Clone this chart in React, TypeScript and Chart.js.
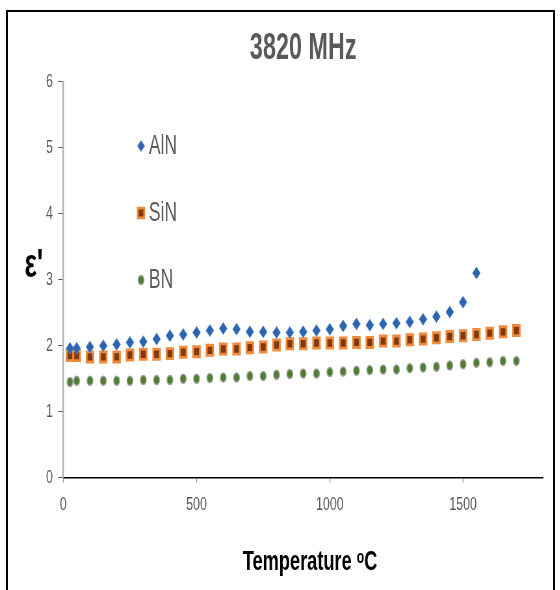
import React, { useEffect, useRef } from "react";
import { Chart, registerables } from "chart.js";
import { drawPoint } from "chart.js/helpers";

Chart.register(...registerables);

// ---------- data ----------
const TITLE = "3820 MHz";
const X_TITLE = "Temperature ᵒC";
const Y_TITLE = "ε'";
const seriesNames = ["AlN", "SiN", "BN"];

const temperatures = [
  25, 50, 100, 150, 200, 250, 300, 350, 400, 450, 500, 550, 600, 650, 700, 750,
  800, 850, 900, 950, 1000, 1050, 1100, 1150, 1200, 1250, 1300, 1350, 1400,
  1450, 1500, 1550, 1600, 1650, 1700,
];

const alnValues = [
  1.96, 1.96, 1.98, 2.0, 2.02, 2.05, 2.06, 2.1, 2.15, 2.17, 2.2, 2.23, 2.26,
  2.25, 2.21, 2.21, 2.2, 2.2, 2.21, 2.23, 2.25, 2.3, 2.33, 2.31, 2.33, 2.34,
  2.36, 2.4, 2.44, 2.51, 2.66, 3.1,
];

const sinValues = [
  1.85, 1.85, 1.83, 1.83, 1.83, 1.86, 1.87, 1.87, 1.88, 1.9, 1.91, 1.93, 1.95,
  1.95, 1.97, 1.98, 2.01, 2.03, 2.03, 2.04, 2.04, 2.04, 2.05, 2.05, 2.07, 2.07,
  2.09, 2.1, 2.12, 2.14, 2.15, 2.17, 2.19, 2.21, 2.23,
];

const bnValues = [
  1.45, 1.47, 1.47, 1.47, 1.47, 1.47, 1.48, 1.48, 1.48, 1.5, 1.5, 1.51, 1.52,
  1.52, 1.54, 1.54, 1.56, 1.57, 1.58, 1.58, 1.6, 1.61, 1.62, 1.63, 1.64, 1.64,
  1.66, 1.67, 1.68, 1.7, 1.72, 1.74, 1.75, 1.77, 1.77,
];

const X_TICKS = [0, 500, 1000, 1500];
const Y_TICKS = [0, 1, 2, 3, 4, 5, 6];
const X_MIN = 0;
const X_MAX = 1800;
const Y_MIN = 0;
const Y_MAX = 6;

// ---------- layout ----------
const SX = 0.65; // horizontal compression of the reference
const W = 862;
const H = 590;
const FONT = "'Liberation Sans', Arial, sans-serif";

const toPts = (vals: number[]) =>
  vals.map((v, i) => ({ x: temperatures[i], y: v }));

const legendRadius = [5.5, 7, 4.5];

const overlayPlugin = {
  id: "overlay",
  afterDatasetsDraw(chart: any) {
    const { ctx, chartArea } = chart;
    ctx.save();
    chart.data.datasets.forEach((ds: any, i: number) => {
      const y = chartArea.top + 64.3 + i * 67;
      ctx.fillStyle = ds.backgroundColor;
      ctx.strokeStyle = ds.borderColor;
      ctx.lineWidth = ds.borderWidth;
      drawPoint(
        ctx,
        {
          pointStyle: ds.pointStyle,
          radius: legendRadius[i],
          borderWidth: ds.borderWidth,
          rotation: 0,
        } as any,
        217,
        y
      );
      ctx.font = `27px ${FONT}`;
      ctx.fillStyle = "#595959";
      ctx.textAlign = "left";
      ctx.textBaseline = "middle";
      ctx.fillText(ds.label, 229, y + 1);
    });
    // y-axis title (horizontal)
    ctx.font = `bold 40px ${FONT}`;
    ctx.fillStyle = "#000";
    ctx.textAlign = "center";
    ctx.textBaseline = "middle";
    ctx.fillText(Y_TITLE, 52, 266);
    // x-axis title
    ctx.font = `bold 28px ${FONT}`;
    ctx.fillText(X_TITLE, 477, 562);
    ctx.restore();
  },
};

export default function App() {
  const ref = useRef<HTMLCanvasElement | null>(null);

  useEffect(() => {
    if (!ref.current) return;
    const chart = new Chart(ref.current, {
      type: "scatter",
      data: {
        datasets: [
          {
            label: seriesNames[0],
            data: toPts(alnValues),
            pointStyle: "rectRot",
            pointRadius: 6,
            pointHoverRadius: 6,
            backgroundColor: "#2D64AE",
            borderColor: "#5A8FD6",
            borderWidth: 1,
          },
          {
            label: seriesNames[1],
            data: toPts(sinValues),
            pointStyle: "rect",
            pointRadius: 7.2,
            pointHoverRadius: 7.2,
            backgroundColor: "#7E3A0E",
            borderColor: "#F08A3C",
            borderWidth: 2.8,
          },
          {
            label: seriesNames[2],
            data: toPts(bnValues),
            pointStyle: "circle",
            pointRadius: 4.5,
            pointHoverRadius: 4.5,
            backgroundColor: "#4F7F2E",
            borderColor: "#A0A0A0",
            borderWidth: 1.5,
          },
        ],
      },
      options: {
        responsive: false,
        animation: false,
        devicePixelRatio: 1,
        layout: { padding: { left: 0, right: 26.6, top: 0, bottom: 0 } },
        plugins: {
          legend: { display: false },
          tooltip: { enabled: false },
          title: {
            display: true,
            text: TITLE,
            color: "#595959",
            fullSize: false,
            font: { family: FONT, size: 36, weight: "bold" },
            padding: { top: 27, bottom: 11.5 },
          },
        },
        scales: {
          x: {
            type: "linear",
            min: X_MIN,
            max: X_MAX,
            afterBuildTicks: (s: any) => {
              s.ticks = X_TICKS.map((v) => ({ value: v }));
            },
            ticks: {
              color: "#595959",
              font: { family: FONT, size: 19 },
              padding: 11,
              maxRotation: 0,
              autoSkip: false,
              callback: (v: any) => String(v),
            },
            grid: {
              drawOnChartArea: false,
              drawTicks: true,
              tickLength: 5,
              tickColor: "#9A9A9A",
              tickWidth: 1.5,
            },
            border: { display: true, color: "#000", width: 1.5 },
            title: { display: false },
            afterFit: (s: any) => {
              s.height = 112.3;
            },
          },
          y: {
            min: Y_MIN,
            max: Y_MAX,
            afterBuildTicks: (s: any) => {
              s.ticks = Y_TICKS.map((v) => ({ value: v }));
            },
            ticks: {
              color: "#595959",
              font: { family: FONT, size: 19 },
              padding: 8,
              callback: (v: any) => String(v),
            },
            grid: {
              drawOnChartArea: false,
              drawTicks: true,
              tickLength: 8,
              tickColor: "#595959",
              tickWidth: 1,
            },
            border: { display: true, color: "#AFAFAF", width: 2.3 },
            afterFit: (s: any) => {
              s.width = 97.4;
            },
          },
        },
      } as any,
      plugins: [overlayPlugin],
    });
    return () => chart.destroy();
  }, []);

  return (
    <div
      style={{
        position: "absolute",
        left: 0,
        top: 0,
        width: 560,
        height: 590,
        overflow: "hidden",
        background: "#fff",
      }}
    >
      <div
        style={{
          position: "absolute",
          left: 0,
          top: 0,
          width: W,
          height: H,
          transform: `scaleX(${SX})`,
          transformOrigin: "0 0",
        }}
      >
        <canvas ref={ref} width={W} height={H} />
      </div>
      <div
        style={{
          position: "absolute",
          left: 6,
          top: 10,
          width: 549,
          height: 580,
          boxSizing: "border-box",
          borderTop: "2px solid #000",
          borderLeft: "2px solid #000",
          borderRight: "2px solid #000",
          pointerEvents: "none",
        }}
      />
    </div>
  );
}
